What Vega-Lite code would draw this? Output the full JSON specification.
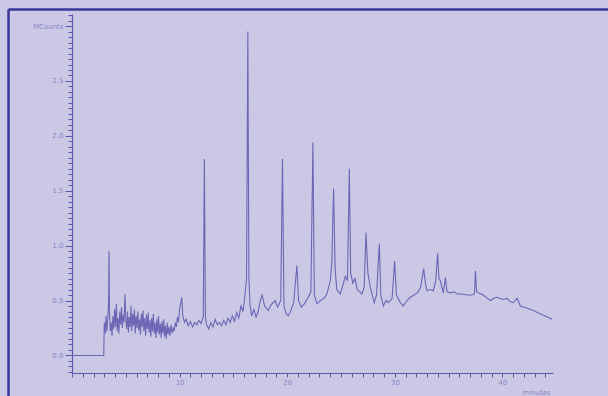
{
  "$schema": "https://vega.github.io/schema/vega-lite/v6.json",
  "width": 481,
  "height": 359,
  "autosize": {"type": "none"},
  "padding": {"left": 72, "top": 14, "right": 55, "bottom": 23},
  "background": "#cbc8e6",
  "config": {
    "view": {"stroke": null},
    "axis": {"grid": false, "domainColor": "#5d58aa", "tickColor": "#5d58aa", "labelColor": "#8a86c2", "labelFont": "DejaVu Sans", "labelFontSize": 7, "titleFont": "DejaVu Sans", "titleFontSize": 7, "titleColor": "#8a86c2", "titleFontWeight": "normal", "domainWidth": 1.2, "tickWidth": 1}
  },
  "data": {
    "values": [
      {"t": 0.0, "v": 0.0}, {"t": 2.95, "v": 0.0}, {"t": 3.0, "v": 0.30}, {"t": 3.08, "v": 0.20}, {"t": 3.16, "v": 0.36}, {"t": 3.24, "v": 0.22}, {"t": 3.32, "v": 0.33}, {"t": 3.4, "v": 0.50}, {"t": 3.44, "v": 0.95}, {"t": 3.48, "v": 0.40}, {"t": 3.56, "v": 0.22}, {"t": 3.64, "v": 0.30}, {"t": 3.72, "v": 0.18}, {"t": 3.8, "v": 0.36}, {"t": 3.88, "v": 0.24}, {"t": 3.96, "v": 0.42}, {"t": 4.04, "v": 0.26}, {"t": 4.12, "v": 0.47}, {"t": 4.2, "v": 0.22}, {"t": 4.28, "v": 0.34}, {"t": 4.36, "v": 0.20}, {"t": 4.44, "v": 0.40}, {"t": 4.52, "v": 0.28}, {"t": 4.6, "v": 0.44}, {"t": 4.68, "v": 0.25}, {"t": 4.76, "v": 0.37}, {"t": 4.84, "v": 0.30}, {"t": 4.92, "v": 0.56}, {"t": 5.0, "v": 0.33}, {"t": 5.08, "v": 0.24}, {"t": 5.16, "v": 0.40}, {"t": 5.24, "v": 0.21}, {"t": 5.32, "v": 0.35}, {"t": 5.4, "v": 0.26}, {"t": 5.48, "v": 0.45}, {"t": 5.56, "v": 0.22}, {"t": 5.64, "v": 0.38}, {"t": 5.72, "v": 0.27}, {"t": 5.8, "v": 0.42}, {"t": 5.88, "v": 0.20}, {"t": 5.96, "v": 0.36}, {"t": 6.04, "v": 0.25}, {"t": 6.12, "v": 0.40}, {"t": 6.2, "v": 0.23}, {"t": 6.28, "v": 0.33}, {"t": 6.36, "v": 0.19}, {"t": 6.44, "v": 0.38}, {"t": 6.52, "v": 0.26}, {"t": 6.6, "v": 0.41}, {"t": 6.68, "v": 0.22}, {"t": 6.76, "v": 0.34}, {"t": 6.84, "v": 0.18}, {"t": 6.92, "v": 0.37}, {"t": 7.0, "v": 0.24}, {"t": 7.08, "v": 0.39}, {"t": 7.16, "v": 0.21}, {"t": 7.24, "v": 0.32}, {"t": 7.32, "v": 0.17}, {"t": 7.4, "v": 0.34}, {"t": 7.48, "v": 0.22}, {"t": 7.56, "v": 0.38}, {"t": 7.64, "v": 0.20}, {"t": 7.72, "v": 0.30}, {"t": 7.8, "v": 0.16}, {"t": 7.88, "v": 0.33}, {"t": 7.96, "v": 0.21}, {"t": 8.04, "v": 0.36}, {"t": 8.12, "v": 0.19}, {"t": 8.2, "v": 0.29}, {"t": 8.28, "v": 0.16}, {"t": 8.36, "v": 0.31}, {"t": 8.44, "v": 0.20}, {"t": 8.52, "v": 0.33}, {"t": 8.6, "v": 0.17}, {"t": 8.68, "v": 0.27}, {"t": 8.76, "v": 0.15}, {"t": 8.84, "v": 0.30}, {"t": 8.92, "v": 0.19}, {"t": 9.0, "v": 0.26}, {"t": 9.1, "v": 0.18}, {"t": 9.2, "v": 0.28}, {"t": 9.3, "v": 0.20}, {"t": 9.4, "v": 0.25}, {"t": 9.5, "v": 0.22}, {"t": 9.6, "v": 0.30}, {"t": 9.7, "v": 0.26}, {"t": 9.8, "v": 0.35}, {"t": 9.9, "v": 0.30}, {"t": 10.0, "v": 0.42}, {"t": 10.2, "v": 0.53}, {"t": 10.3, "v": 0.36}, {"t": 10.45, "v": 0.30}, {"t": 10.6, "v": 0.33}, {"t": 10.8, "v": 0.27}, {"t": 11.0, "v": 0.31}, {"t": 11.2, "v": 0.26}, {"t": 11.4, "v": 0.30}, {"t": 11.6, "v": 0.28}, {"t": 11.8, "v": 0.32}, {"t": 12.0, "v": 0.29}, {"t": 12.2, "v": 0.35}, {"t": 12.3, "v": 1.79}, {"t": 12.4, "v": 0.35}, {"t": 12.5, "v": 0.28}, {"t": 12.7, "v": 0.24}, {"t": 12.9, "v": 0.30}, {"t": 13.1, "v": 0.26}, {"t": 13.3, "v": 0.33}, {"t": 13.5, "v": 0.28}, {"t": 13.7, "v": 0.30}, {"t": 13.9, "v": 0.27}, {"t": 14.1, "v": 0.32}, {"t": 14.3, "v": 0.28}, {"t": 14.5, "v": 0.34}, {"t": 14.7, "v": 0.30}, {"t": 14.9, "v": 0.36}, {"t": 15.1, "v": 0.31}, {"t": 15.3, "v": 0.39}, {"t": 15.5, "v": 0.34}, {"t": 15.7, "v": 0.45}, {"t": 15.9, "v": 0.40}, {"t": 16.05, "v": 0.53}, {"t": 16.22, "v": 0.70}, {"t": 16.34, "v": 2.95}, {"t": 16.44, "v": 0.70}, {"t": 16.55, "v": 0.45}, {"t": 16.7, "v": 0.36}, {"t": 16.9, "v": 0.42}, {"t": 17.1, "v": 0.35}, {"t": 17.3, "v": 0.40}, {"t": 17.5, "v": 0.50}, {"t": 17.67, "v": 0.55}, {"t": 17.9, "v": 0.45}, {"t": 18.23, "v": 0.41}, {"t": 18.5, "v": 0.46}, {"t": 18.88, "v": 0.50}, {"t": 19.1, "v": 0.44}, {"t": 19.4, "v": 0.50}, {"t": 19.56, "v": 1.79}, {"t": 19.7, "v": 0.45}, {"t": 19.9, "v": 0.38}, {"t": 20.1, "v": 0.36}, {"t": 20.3, "v": 0.40}, {"t": 20.6, "v": 0.48}, {"t": 20.9, "v": 0.82}, {"t": 21.05, "v": 0.50}, {"t": 21.3, "v": 0.44}, {"t": 21.6, "v": 0.47}, {"t": 21.9, "v": 0.52}, {"t": 22.2, "v": 0.58}, {"t": 22.39, "v": 1.94}, {"t": 22.52, "v": 0.55}, {"t": 22.76, "v": 0.47}, {"t": 23.1, "v": 0.50}, {"t": 23.4, "v": 0.52}, {"t": 23.69, "v": 0.56}, {"t": 24.0, "v": 0.68}, {"t": 24.15, "v": 0.85}, {"t": 24.31, "v": 1.52}, {"t": 24.45, "v": 0.80}, {"t": 24.6, "v": 0.60}, {"t": 24.93, "v": 0.56}, {"t": 25.2, "v": 0.65}, {"t": 25.4, "v": 0.72}, {"t": 25.6, "v": 0.68}, {"t": 25.77, "v": 1.70}, {"t": 25.9, "v": 0.75}, {"t": 26.1, "v": 0.66}, {"t": 26.3, "v": 0.70}, {"t": 26.5, "v": 0.60}, {"t": 26.95, "v": 0.56}, {"t": 27.15, "v": 0.62}, {"t": 27.32, "v": 1.12}, {"t": 27.5, "v": 0.75}, {"t": 27.72, "v": 0.62}, {"t": 27.9, "v": 0.55}, {"t": 28.09, "v": 0.48}, {"t": 28.3, "v": 0.55}, {"t": 28.56, "v": 1.02}, {"t": 28.7, "v": 0.55}, {"t": 28.93, "v": 0.45}, {"t": 29.2, "v": 0.50}, {"t": 29.4, "v": 0.48}, {"t": 29.75, "v": 0.52}, {"t": 29.98, "v": 0.86}, {"t": 30.15, "v": 0.55}, {"t": 30.51, "v": 0.48}, {"t": 30.79, "v": 0.45}, {"t": 31.13, "v": 0.50}, {"t": 31.44, "v": 0.53}, {"t": 31.8, "v": 0.55}, {"t": 32.09, "v": 0.57}, {"t": 32.4, "v": 0.62}, {"t": 32.68, "v": 0.79}, {"t": 32.85, "v": 0.65}, {"t": 33.0, "v": 0.59}, {"t": 33.3, "v": 0.60}, {"t": 33.58, "v": 0.59}, {"t": 33.8, "v": 0.68}, {"t": 33.98, "v": 0.93}, {"t": 34.1, "v": 0.70}, {"t": 34.23, "v": 0.68}, {"t": 34.51, "v": 0.57}, {"t": 34.7, "v": 0.71}, {"t": 34.85, "v": 0.58}, {"t": 35.16, "v": 0.57}, {"t": 35.5, "v": 0.58}, {"t": 35.79, "v": 0.56}, {"t": 36.2, "v": 0.56}, {"t": 36.72, "v": 0.55}, {"t": 37.1, "v": 0.55}, {"t": 37.4, "v": 0.56}, {"t": 37.49, "v": 0.77}, {"t": 37.6, "v": 0.58}, {"t": 37.77, "v": 0.57}, {"t": 38.23, "v": 0.55}, {"t": 38.6, "v": 0.52}, {"t": 38.88, "v": 0.50}, {"t": 39.2, "v": 0.52}, {"t": 39.51, "v": 0.53}, {"t": 40.0, "v": 0.51}, {"t": 40.44, "v": 0.52}, {"t": 40.7, "v": 0.49}, {"t": 41.02, "v": 0.48}, {"t": 41.37, "v": 0.52}, {"t": 41.67, "v": 0.45}, {"t": 42.3, "v": 0.43}, {"t": 42.88, "v": 0.41}, {"t": 43.7, "v": 0.37}, {"t": 44.62, "v": 0.33}
    ]
  },
  "layer": [
    {
      "mark": {"type": "line", "color": "#6c66b4", "strokeWidth": 1.1, "clip": true},
      "encoding": {
        "x": {"field": "t", "type": "quantitative", "scale": {"domain": [0, 44.7], "nice": false, "zero": false},
          "axis": {"values": [0,1,2,3,4,5,6,7,8,9,10,11,12,13,14,15,16,17,18,19,20,21,22,23,24,25,26,27,28,29,30,31,32,33,34,35,36,37,38,39,40,41,42,43,44],
            "tickCount": 500,
            "labelExpr": "datum.value % 10 == 0 && datum.value > 0 ? format(datum.value, 'd') : ''",
            "labelOverlap": false, "labelFlush": false, "tickSize": 4, "labelPadding": 1,
            "title": "minutes", "titleAlign": "right", "titleAnchor": null, "titleX": 478, "titleY": 22, "titleBaseline": "bottom"}},
        "y": {"field": "v", "type": "quantitative", "scale": {"domain": [-0.16, 3.11], "nice": false, "zero": false},
          "axis": {"values": [-0.15,-0.1,-0.05,0,0.05,0.1,0.15,0.2,0.25,0.3,0.35,0.4,0.45,0.5,0.55,0.6,0.65,0.7,0.75,0.8,0.85,0.9,0.95,1,1.05,1.1,1.15,1.2,1.25,1.3,1.35,1.4,1.45,1.5,1.55,1.6,1.65,1.7,1.75,1.8,1.85,1.9,1.95,2,2.05,2.1,2.15,2.2,2.25,2.3,2.35,2.4,2.45,2.5,2.55,2.6,2.65,2.7,2.75,2.8,2.85,2.9,2.95,3,3.05,3.1],
            "tickCount": 500,
            "labelExpr": "datum.value == 3 ? 'MCounts' : (abs(datum.value*2 - round(datum.value*2)) < 0.001 ? format(datum.value, '.1f') : '')",
            "labelOverlap": false, "labelFlush": false, "labelPadding": 2,
            "tickSize": {"condition": {"test": "abs(datum.value*2 - round(datum.value*2)) < 0.001", "value": 7}, "value": 4},
            "title": null}}
      }
    },
    {
      "data": {"values": [{"x": -5.9, "y1": -0.37, "y2": 3.15}]},
      "mark": {"type": "rule", "color": "#3b379a", "strokeWidth": 2.5, "clip": false},
      "encoding": {"x": {"field": "x", "type": "quantitative"}, "y": {"field": "y1", "type": "quantitative"}, "y2": {"field": "y2"}}
    },
    {
      "data": {"values": [{"x1": -5.9, "x2": 50, "y": 3.15}]},
      "mark": {"type": "rule", "color": "#3b379a", "strokeWidth": 2.5, "clip": false},
      "encoding": {"x": {"field": "x1", "type": "quantitative"}, "x2": {"field": "x2"}, "y": {"field": "y", "type": "quantitative"}}
    }
  ]
}
